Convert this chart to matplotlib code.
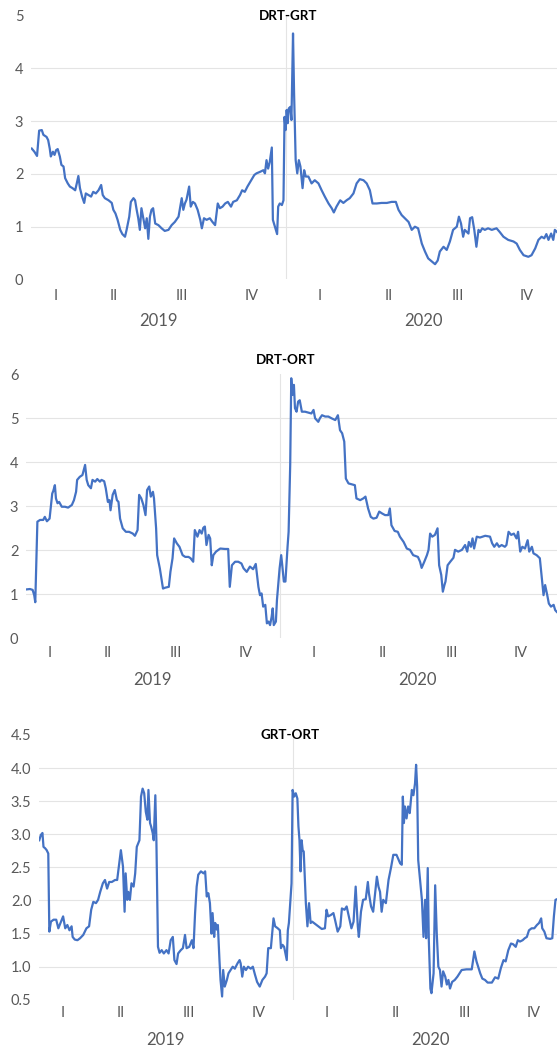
import matplotlib
matplotlib.use("Agg")
import matplotlib.pyplot as plt

plt.rcParams['font.family'] = ['Lato', 'DejaVu Sans']

# x values: weeks since 1 January 2019
drt_grt_weeks = [4.1, 4.6, 5.1, 5.5, 6.0, 6.3, 6.9, 7.2, 7.5, 7.7, 8.1, 8.4, 8.7, 9.0, 9.4, 9.7, 10.1, 10.4, 10.9, 11.3,
                 11.8, 12.3, 12.6, 12.9, 13.2, 13.6, 14.0, 14.3, 14.8, 15.3, 15.7, 16.2, 16.7, 17.2, 17.5, 17.9, 18.6,
                 19.2, 19.5, 19.9, 20.3, 20.8, 21.2, 21.7, 22.0, 22.5, 22.8, 23.3, 23.6, 23.9, 24.2, 24.5, 24.8, 25.2,
                 25.5, 25.8, 26.1, 26.4, 26.7, 27.0, 27.4, 28.0, 28.6, 29.2, 29.9, 30.5, 31.1, 31.8, 32.4, 32.7, 33.0,
                 33.3, 33.8, 34.1, 34.5, 34.9, 35.4, 35.9, 36.2, 36.6, 37.1, 37.7, 38.2, 38.7, 39.2, 39.6, 40.1, 40.6,
                 41.1, 41.7, 42.1, 42.8, 43.4, 43.8, 44.3, 44.8, 45.5, 46.1, 46.5, 47.2, 47.8, 48.1, 48.4, 48.7, 49.0,
                 49.4, 49.6, 49.9, 50.4, 50.6, 50.9, 51.3, 51.6, 51.8, 52.0, 52.2, 52.4, 52.6, 52.9, 53.1, 53.4, 53.6,
                 53.9, 54.2, 54.5, 54.8, 55.2, 55.5, 55.8, 56.3, 56.9, 57.5, 58.2, 58.8, 59.4, 60.1, 60.7, 61.1, 61.6,
                 62.3, 62.9, 63.5, 64.1, 64.8, 65.4, 66.0, 66.7, 67.3, 67.9, 68.4, 69.2, 70.1, 71.1, 72.0, 72.8, 73.3,
                 73.9, 74.5, 75.2, 75.8, 76.4, 77.0, 77.7, 78.3, 78.9, 79.6, 80.2, 80.7, 81.1, 81.8, 82.4, 83.0, 83.6,
                 84.3, 84.7, 85.1, 85.5, 85.8, 86.5, 86.8, 87.2, 87.6, 88.0, 88.4, 88.7, 89.1, 89.6, 90.2, 90.9, 91.8,
                 92.4, 93.1, 94.0, 95.0, 95.6, 96.2, 96.9, 97.8, 98.4, 99.1, 99.7, 100.3, 100.8, 101.2, 101.6, 102.1,
                 102.5, 102.8, 103.2]
drt_grt_values = [2.48, 2.42, 2.34, 2.82, 2.83, 2.74, 2.70, 2.64, 2.48, 2.33, 2.42, 2.36, 2.45, 2.47, 2.33, 2.17, 2.14,
                  1.92, 1.82, 1.76, 1.73, 1.69, 1.82, 1.96, 1.73, 1.57, 1.45, 1.63, 1.60, 1.57, 1.66, 1.63, 1.69, 1.79,
                  1.60, 1.54, 1.50, 1.45, 1.32, 1.25, 1.13, 0.94, 0.86, 0.81, 0.94, 1.19, 1.47, 1.54, 1.50, 1.32, 1.16,
                  0.94, 1.35, 1.13, 0.97, 1.16, 0.77, 1.19, 1.32, 1.35, 1.06, 1.03, 0.97, 0.92, 0.94, 1.03, 1.09, 1.19,
                  1.54, 1.32, 1.44, 1.51, 1.76, 1.38, 1.47, 1.44, 1.32, 1.13, 0.97, 1.16, 1.13, 1.16, 1.09, 1.03, 1.44,
                  1.35, 1.38, 1.44, 1.47, 1.38, 1.47, 1.50, 1.60, 1.69, 1.66, 1.76, 1.88, 1.98, 2.01, 2.04, 2.07, 2.01,
                  2.26, 2.10, 2.22, 2.50, 1.13, 1.03, 0.86, 1.38, 1.44, 1.41, 1.50, 3.08, 2.83, 3.21, 2.96, 3.24, 3.27,
                  3.02, 4.66, 3.53, 2.26, 2.01, 2.26, 2.14, 1.73, 2.07, 1.95, 1.95, 1.82, 1.88, 1.82, 1.69, 1.57, 1.44,
                  1.35, 1.27, 1.38, 1.50, 1.45, 1.50, 1.54, 1.63, 1.82, 1.90, 1.88, 1.82, 1.69, 1.44, 1.44, 1.45, 1.45,
                  1.47, 1.47, 1.32, 1.22, 1.16, 1.09, 0.94, 1.00, 0.97, 0.68, 0.53, 0.40, 0.34, 0.29, 0.36, 0.53, 0.62,
                  0.56, 0.72, 0.94, 1.00, 1.19, 1.06, 0.81, 0.94, 0.87, 1.16, 1.18, 0.94, 0.62, 0.94, 0.90, 0.97, 0.94,
                  0.97, 0.94, 0.97, 0.90, 0.81, 0.75, 0.72, 0.68, 0.56, 0.46, 0.43, 0.46, 0.59, 0.75, 0.81, 0.78, 0.86,
                  0.75, 0.87, 0.75, 0.94, 0.90]

drt_ort_weeks = [4.15, 4.9, 5.4, 5.7, 5.9, 6.3, 6.8, 7.4, 7.7, 8.1, 8.6, 8.8, 9.1, 9.3, 9.6, 9.8, 10.1, 10.4, 10.9, 11.5,
                 12.1, 12.8, 13.2, 13.6, 13.8, 14.3, 14.8, 15.3, 15.6, 15.9, 16.4, 16.7, 17.2, 17.6, 18.1, 18.4, 18.9,
                 19.2, 19.6, 19.9, 20.1, 20.5, 20.9, 21.3, 21.6, 21.9, 22.4, 23.0, 23.6, 24.3, 24.7, 25.2, 25.5, 25.9,
                 26.3, 26.7, 27.0, 27.4, 27.7, 28.1, 28.3, 28.7, 28.9, 29.4, 30.0, 30.4, 31.1, 31.4, 31.8, 32.1, 32.6,
                 33.1, 33.7, 34.2, 34.8, 35.2, 35.7, 36.0, 36.5, 36.9, 37.3, 37.6, 37.9, 38.2, 38.6, 38.9, 39.2, 39.5,
                 40.0, 40.8, 41.7, 42.3, 42.6, 43.0, 43.6, 44.2, 44.8, 45.2, 45.8, 46.4, 47.0, 47.5, 48.0, 48.3, 48.6,
                 48.9, 49.3, 49.6, 49.9, 50.2, 50.5, 50.7, 50.9, 51.3, 51.5, 52.0, 52.3, 52.5, 52.8, 53.1, 53.5, 53.7,
                 54.0, 54.2, 54.4, 54.7, 54.9, 55.2, 55.5, 55.8, 56.2, 56.8, 57.4, 58.0, 58.4, 58.7, 59.0, 59.3, 59.6,
                 60.0, 60.6, 61.2, 61.8, 62.5, 63.0, 63.4, 63.8, 64.2, 64.5, 65.0, 65.6, 66.2, 66.5, 67.2, 67.8, 68.2,
                 68.7, 69.2, 69.7, 70.3, 70.8, 71.3, 71.9, 72.5, 72.8, 73.1, 73.7, 74.3, 74.7, 75.4, 76.0, 76.6, 77.2,
                 78.1, 78.5, 78.8, 79.3, 79.8, 80.1, 80.4, 80.8, 81.3, 81.8, 82.1, 82.5, 82.8, 83.1, 83.3, 83.7, 84.2,
                 84.8, 85.1, 85.7, 86.4, 87.0, 87.4, 87.7, 88.1, 88.4, 88.7, 89.2, 89.8, 90.8, 91.7, 92.1, 92.5, 93.0,
                 93.4, 93.9, 94.5, 94.8, 95.2, 95.7, 96.2, 96.7, 97.0, 97.4, 97.8, 98.3, 98.8, 99.1, 99.6, 99.9, 100.5,
                 101.1, 101.6, 101.8, 102.1, 102.5, 102.8, 103.2, 103.7, 104.0, 104.3]
drt_ort_values = [1.11, 1.12, 1.10, 0.98, 0.82, 2.65, 2.69, 2.69, 2.76, 2.66, 2.72, 2.95, 3.29, 3.35, 3.48, 3.18, 3.07,
                  3.10, 2.99, 2.99, 2.97, 3.03, 3.14, 3.33, 3.60, 3.67, 3.71, 3.94, 3.60, 3.48, 3.41, 3.60, 3.56, 3.62,
                  3.56, 3.60, 3.57, 3.41, 3.10, 3.14, 2.91, 3.26, 3.37, 3.14, 3.10, 2.72, 2.50, 2.42, 2.42, 2.38, 2.33,
                  2.46, 3.26, 3.18, 3.03, 2.80, 3.37, 3.45, 3.22, 3.33, 3.18, 2.50, 1.89, 1.59, 1.13, 1.15, 1.17, 1.51,
                  1.82, 2.27, 2.16, 2.08, 1.89, 1.85, 1.85, 1.82, 1.74, 2.46, 2.31, 2.46, 2.38, 2.51, 2.54, 2.12, 2.35,
                  2.27, 1.66, 1.89, 1.97, 2.04, 2.03, 2.03, 1.17, 1.66, 1.74, 1.74, 1.70, 1.59, 1.51, 1.63, 1.57, 1.69,
                  1.17, 0.98, 1.02, 0.72, 0.76, 0.34, 0.38, 0.30, 0.49, 0.68, 0.30, 0.38, 0.87, 1.59, 1.89, 1.66, 1.29,
                  1.29, 2.08, 2.42, 3.94, 5.91, 5.53, 5.76, 5.23, 5.15, 5.38, 5.41, 5.15, 5.15, 5.13, 5.11, 5.19, 5.00,
                  4.96, 4.92, 5.00, 5.07, 5.04, 5.04, 5.00, 4.96, 5.07, 4.73, 4.66, 4.47, 3.63, 3.52, 3.50, 3.48, 3.18,
                  3.14, 3.18, 3.22, 2.95, 2.76, 2.72, 2.74, 2.88, 2.84, 2.80, 2.80, 2.95, 2.57, 2.44, 2.42, 2.31, 2.19,
                  2.04, 2.01, 1.89, 1.85, 1.74, 1.60, 1.74, 1.89, 2.01, 2.38, 2.31, 2.35, 2.50, 1.66, 1.44, 1.06, 1.21,
                  1.29, 1.66, 1.74, 1.83, 2.01, 1.97, 2.01, 2.12, 1.97, 2.19, 2.08, 2.27, 2.04, 2.31, 2.29, 2.33, 2.31,
                  2.16, 2.08, 2.16, 2.08, 2.12, 2.08, 2.12, 2.42, 2.35, 2.38, 2.27, 2.42, 1.97, 2.08, 2.04, 2.23, 1.97,
                  2.08, 1.93, 1.89, 1.82, 1.21, 0.98, 1.21, 0.98, 0.79, 0.72, 0.76, 0.64, 0.60]

grt_ort_weeks = [4.2, 4.5, 4.8, 5.0, 5.3, 5.6, 5.9, 6.1, 6.4, 6.9, 7.4, 7.8, 8.2, 8.7, 9.1, 9.5, 9.9, 10.3, 10.5, 10.9,
                 11.4, 11.9, 12.5, 13.1, 13.6, 14.0, 14.4, 14.9, 15.3, 15.7, 16.2, 16.6, 17.0, 17.4, 17.9, 18.5, 18.9,
                 19.3, 19.6, 20.0, 20.3, 20.5, 20.8, 21.0, 21.3, 21.6, 22.0, 22.3, 22.6, 23.1, 23.4, 23.7, 24.0, 24.3,
                 24.6, 24.8, 25.1, 25.3, 25.6, 25.8, 26.1, 26.3, 26.6, 26.9, 27.3, 27.7, 28.2, 28.6, 29.0, 29.4, 29.7,
                 30.1, 30.4, 30.9, 31.3, 31.7, 32.0, 32.5, 33.0, 33.3, 33.6, 33.9, 34.2, 34.7, 35.2, 35.5, 35.8, 36.1,
                 36.4, 36.7, 36.9, 37.2, 37.4, 37.7, 37.9, 38.2, 38.4, 38.7, 38.9, 39.2, 39.6, 39.9, 40.3, 40.7, 41.1,
                 41.6, 42.0, 42.2, 42.5, 42.8, 43.2, 43.6, 44.1, 44.5, 44.9, 45.3, 45.8, 46.3, 46.8, 47.1, 47.4, 47.9,
                 48.4, 48.7, 49.2, 49.6, 49.8, 50.1, 50.4, 50.9, 51.1, 51.3, 51.6, 51.8, 52.0, 52.3, 52.6, 52.9, 53.1,
                 53.3, 53.5, 53.7, 53.9, 54.1, 54.5, 54.8, 55.1, 55.4, 55.7, 56.2, 56.9, 57.5, 58.1, 58.4, 58.7, 59.2,
                 59.7, 60.0, 60.5, 61.0, 61.3, 61.8, 62.2, 62.6, 63.1, 63.5, 63.9, 64.3, 64.5, 64.9, 65.3, 65.8, 66.2,
                 66.4, 66.8, 67.2, 67.5, 67.9, 68.2, 68.5, 68.8, 69.1, 69.6, 70.1, 70.6, 71.0, 71.6, 72.3, 72.6, 72.8,
                 73.0, 73.2, 73.5, 73.8, 74.1, 74.5, 74.8, 75.1, 75.3, 75.5, 75.7, 76.0, 76.4, 76.7, 77.0, 77.2, 77.5,
                 77.7, 78.0, 78.2, 78.6, 78.9, 79.2, 79.5, 79.8, 80.1, 80.4, 80.8, 81.1, 81.4, 81.7, 82.1, 82.6, 83.1,
                 83.9, 84.8, 85.8, 86.3, 86.7, 87.4, 87.8, 88.3, 88.8, 89.6, 90.2, 90.8, 91.3, 91.8, 92.2, 92.7, 93.2,
                 93.6, 94.1, 94.5, 94.9, 95.4, 95.8, 96.2, 96.6, 97.1, 97.6, 98.1, 98.5, 98.9, 99.1, 99.5, 99.9, 100.6,
                 101.0, 101.3, 101.6, 101.9]
grt_ort_values = [2.91, 2.99, 3.02, 2.81, 2.79, 2.76, 2.71, 1.53, 1.68, 1.71, 1.71, 1.58, 1.66, 1.76, 1.58, 1.63, 1.55,
                  1.61, 1.45, 1.41, 1.40, 1.43, 1.48, 1.58, 1.61, 1.86, 1.98, 1.96, 2.01, 2.13, 2.26, 2.31, 2.18, 2.28,
                  2.28, 2.31, 2.31, 2.56, 2.76, 2.51, 1.83, 2.41, 2.01, 2.13, 2.01, 2.26, 2.21, 2.41, 2.81, 2.91, 3.57,
                  3.69, 3.62, 3.34, 3.22, 3.67, 3.17, 3.12, 3.02, 2.91, 3.59, 2.91, 1.30, 1.21, 1.25, 1.20, 1.25, 1.20,
                  1.40, 1.45, 1.10, 1.04, 1.20, 1.25, 1.28, 1.48, 1.28, 1.30, 1.40, 1.28, 1.81, 2.21, 2.39, 2.44, 2.41,
                  2.44, 2.06, 2.11, 1.96, 1.50, 1.81, 1.45, 1.66, 1.56, 1.63, 1.10, 0.80, 0.55, 0.95, 0.70, 0.80, 0.90,
                  0.95, 1.00, 0.97, 1.05, 1.10, 1.05, 0.85, 1.00, 0.95, 1.00, 0.97, 1.00, 0.88, 0.77, 0.70, 0.80, 0.85,
                  0.90, 1.28, 1.28, 1.73, 1.61, 1.58, 1.55, 1.28, 1.33, 1.30, 1.10, 1.55, 1.66, 2.01, 2.26, 3.67, 3.57,
                  3.62, 3.54, 3.12, 2.91, 2.44, 2.91, 2.76, 2.74, 1.96, 1.61, 1.96, 1.66, 1.68, 1.65, 1.61, 1.57, 1.58,
                  1.86, 1.76, 1.78, 1.81, 1.71, 1.53, 1.61, 1.88, 1.86, 1.91, 1.76, 1.58, 1.68, 2.21, 1.61, 1.45, 1.83,
                  2.01, 2.02, 2.28, 2.11, 1.91, 1.83, 2.06, 2.36, 2.21, 2.13, 1.83, 2.01, 1.96, 2.31, 2.51, 2.69, 2.69,
                  2.56, 2.54, 3.57, 3.17, 3.42, 3.24, 3.42, 3.32, 3.67, 3.59, 3.77, 4.05, 3.72, 2.61, 2.36, 2.01, 1.45,
                  2.01, 1.43, 2.49, 1.40, 0.67, 0.60, 0.90, 2.23, 1.50, 1.00, 0.95, 0.70, 0.93, 0.85, 0.73, 0.80, 0.67,
                  0.77, 0.80, 0.85, 0.95, 0.96, 0.96, 1.23, 1.08, 0.90, 0.82, 0.80, 0.76, 0.76, 0.84, 0.82, 0.98, 1.10,
                  1.08, 1.25, 1.35, 1.34, 1.30, 1.40, 1.38, 1.40, 1.43, 1.45, 1.55, 1.58, 1.58, 1.63, 1.66, 1.73, 1.58,
                  1.53, 1.43, 1.42, 1.43, 1.76, 2.01, 2.02]

titles = ["DRT-GRT", "DRT-ORT", "GRT-ORT"]
quarter_labels = ["I", "II", "III", "IV"]
year_labels = ["2019", "2020"]
yticks_drt_grt = [0, 1, 2, 3, 4, 5]
yticks_drt_ort = [0, 1, 2, 3, 4, 5, 6]
yticks_grt_ort = [0.5, 1.0, 1.5, 2.0, 2.5, 3.0, 3.5, 4.0, 4.5]

LINE = '#4472C4'
GRID = '#E4E4E4'
TXT = '#595959'
W, H = 557, 1051
PX_PER_WEEK = 5.3

fig = plt.figure(figsize=(W / 100, H / 100), dpi=100)
fig.patch.set_facecolor('white')

panels = [
    dict(weeks=drt_grt_weeks, values=drt_grt_values, title=titles[0], yticks=yticks_drt_grt, fmt='{:.0f}',
         left=31, top=15.5, bottom=279.5, week0_px=10, title_xy=(288, 16), qoff=17, yoff=42),
    dict(weeks=drt_ort_weeks, values=drt_ort_values, title=titles[1], yticks=yticks_drt_ort, fmt='{:.0f}',
         left=26, top=374.3, bottom=638.3, week0_px=4, title_xy=(286, 360), qoff=15, yoff=42),
    dict(weeks=grt_ort_weeks, values=grt_ort_values, title=titles[2], yticks=yticks_grt_ort, fmt='{:.1f}',
         left=39, top=735, bottom=999.8, week0_px=17, title_xy=(290, 735), qoff=13.5, yoff=40),
]

for p in panels:
    rect = [p['left'] / W, 1 - p['bottom'] / H, 1 - p['left'] / W, (p['bottom'] - p['top']) / H]
    ax = fig.add_axes(rect)
    ax.patch.set_alpha(0)
    x0 = (p['left'] - p['week0_px']) / PX_PER_WEEK
    x1 = (W - p['week0_px']) / PX_PER_WEEK
    ax.set_xlim(x0, x1)
    yt = p['yticks']
    ax.set_ylim(yt[0], yt[-1])
    for y in yt[1:-1]:
        ax.axhline(y, color=GRID, lw=0.8, zorder=0)
    ax.axvline(52, color=GRID, lw=0.8, zorder=0)
    ax.plot(p['weeks'], p['values'], color=LINE, lw=1.6, solid_joinstyle='round', clip_on=True, zorder=3)
    for s in ax.spines.values():
        s.set_visible(False)
    ax.set_xticks([])
    ax.set_yticks(yt)
    ax.set_yticklabels([p['fmt'].format(v) for v in yt])
    ax.tick_params(axis='y', length=0, pad=5.5, labelsize=10.5, labelcolor=TXT)

    start = p['weeks'][0]
    for yi, ylab in enumerate(year_labels):
        for qi, qlab in enumerate(quarter_labels):
            lo = max(start, 52 * yi + 13 * qi)
            hi = 52 * yi + 13 * (qi + 1)
            ax.annotate(qlab, xy=((lo + hi) / 2, 0), xycoords=('data', 'axes fraction'),
                        xytext=(0, -p['qoff'] * 0.72), textcoords='offset points',
                        ha='center', va='center', fontsize=10.5, color=TXT)
        ylo = max(start, 52 * yi)
        yhi = 52 * (yi + 1)
        ax.annotate(ylab, xy=((ylo + yhi) / 2, 0), xycoords=('data', 'axes fraction'),
                    xytext=(0, -p['yoff'] * 0.72), textcoords='offset points',
                    ha='center', va='center', fontsize=12, color=TXT)

    tx, ty = p['title_xy']
    fig.text(tx / W, 1 - ty / H, p['title'], ha='center', va='center', fontsize=9.6,
             fontweight='bold', color='black')

fig.savefig('out.png', dpi=100)
